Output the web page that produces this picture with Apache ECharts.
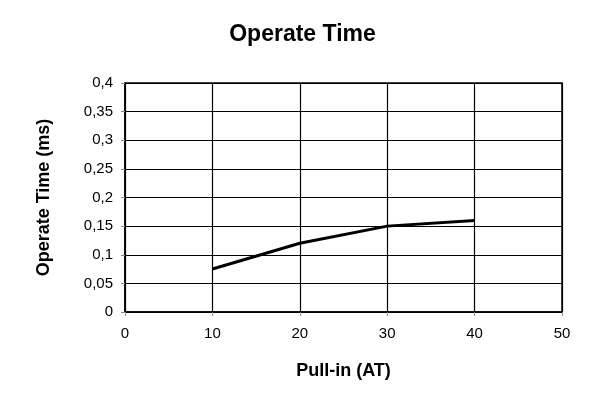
<!DOCTYPE html>
<html><head><meta charset="utf-8">
<script src="https://cdn.jsdelivr.net/npm/echarts@6/dist/echarts.min.js"></script>
<style>html,body{margin:0;padding:0;background:#fff}#c{width:605px;height:396px}</style>
</head><body><div id="c"></div>
<script>
const xValues = [10, 20, 30, 40];
const operateTime = [0.075, 0.12, 0.15, 0.16];
const titleText = 'Operate Time';
const xName = 'Pull-in (AT)';
const yName = 'Operate Time (ms)';

const chart = echarts.init(document.getElementById('c'));
const font = '"Liberation Sans", Arial, sans-serif';
chart.setOption({
  animation: false,
  title: {text: titleText, left: 'center', top: 18, textStyle: {fontFamily: font, fontSize: 23, fontWeight: 'bold', color: '#000'}},
  grid: {left: 125, right: 43, top: 83, bottom: 84, show: true, borderColor: '#000', borderWidth: 1.5},
  xAxis: {type: 'value', min: 0, max: 50, interval: 10,
    name: xName, nameLocation: 'middle', nameGap: 50,
    nameTextStyle: {fontFamily: font, fontSize: 18, fontWeight: 'bold', color: '#000'},
    axisLine: {show: true, onZero: false, lineStyle: {color: '#000', width: 1.5}},
    axisTick: {show: true, length: 4, lineStyle: {color: '#888'}},
    axisLabel: {fontFamily: font, fontSize: 15, color: '#000', margin: 14},
    splitLine: {show: true, lineStyle: {color: '#000', width: 1.2}}},
  yAxis: {type: 'value', min: 0, max: 0.4, interval: 0.05,
    name: yName, nameLocation: 'middle', nameGap: 72, nameRotate: 90,
    nameTextStyle: {fontFamily: font, fontSize: 18, fontWeight: 'bold', color: '#000'},
    axisLine: {show: true, lineStyle: {color: '#000', width: 1.5}},
    axisTick: {show: true, length: 4, lineStyle: {color: '#888'}},
    axisLabel: {fontFamily: font, fontSize: 15, color: '#000', margin: 12,
      formatter: v => String(Math.round(v*100)/100).replace('.', ',')},
    splitLine: {show: true, lineStyle: {color: '#000', width: 1.2}}},
  series: [{type: 'line', data: xValues.map((x, i) => [x, operateTime[i]]),
    showSymbol: false, lineStyle: {color: '#000', width: 3}}]
});
</script></body></html>
